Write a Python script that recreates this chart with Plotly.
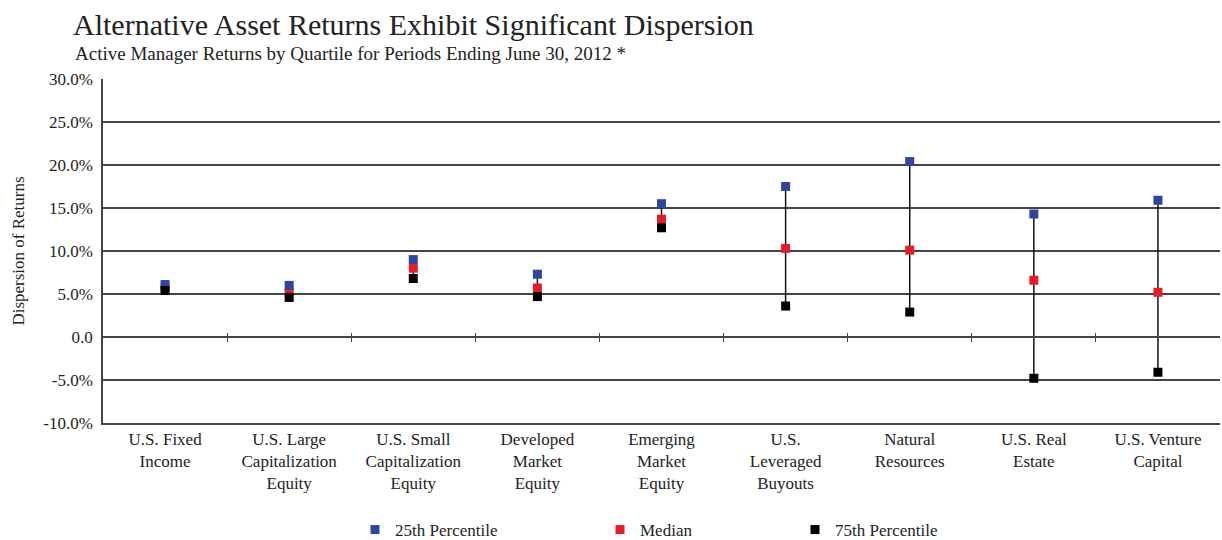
import plotly.graph_objects as go

categories = [
    "U.S. Fixed<br>Income",
    "U.S. Large<br>Capitalization<br>Equity",
    "U.S. Small<br>Capitalization<br>Equity",
    "Developed<br>Market<br>Equity",
    "Emerging<br>Market<br>Equity",
    "U.S.<br>Leveraged<br>Buyouts",
    "Natural<br>Resources",
    "U.S. Real<br>Estate",
    "U.S. Venture<br>Capital",
]
p25 = [6.1, 6.0, 9.0, 7.3, 15.5, 17.5, 20.4, 14.3, 15.9]
median = [5.7, 5.2, 8.0, 5.7, 13.7, 10.3, 10.1, 6.6, 5.2]
p75 = [5.4, 4.6, 6.8, 4.7, 12.7, 3.6, 2.9, -4.8, -4.1]

y_tickvals = [30, 25, 20, 15, 10, 5, 0, -5, -10]
y_ticktext = ["30.0%", "25.0%", "20.0%", "15.0%", "10.0%", "5.0%", "0.0", "-5.0%", "-10.0%"]

FONT = "Liberation Serif"
BLUE = "#2f45a0"
RED = "#e31e26"
BLACK = "#000000"
TXT = "#222222"

W, H = 1222, 540
L, R, T, B = 103, 2, 79, 117
PW, PH = W - L - R, H - T - B

x = list(range(len(categories)))

fig = go.Figure()
fig.add_trace(go.Scatter(
    x=x, y=median, mode="markers", name="Median",
    marker=dict(symbol="square", size=9, color=RED),
    error_y=dict(type="data", symmetric=False,
                 array=[a - m for a, m in zip(p25, median)],
                 arrayminus=[m - b for m, b in zip(median, p75)],
                 width=0, thickness=1.5, color="#111111"),
    legend="legend2",
))
fig.add_trace(go.Scatter(
    x=x, y=p25, mode="markers", name="25th Percentile",
    marker=dict(symbol="square", size=9, color=BLUE),
    legend="legend",
))
fig.add_trace(go.Scatter(
    x=x, y=p75, mode="markers", name="75th Percentile",
    marker=dict(symbol="square", size=9, color=BLACK),
    legend="legend3",
))

n = len(categories)
boundaries = [i + 0.5 for i in range(n - 1)]
y_min, y_max = -10, 30
zero_pos = (0 - y_min) / (y_max - y_min)

legend_common = dict(orientation="h", yanchor="middle", y=-(530 - (H - B)) / PH, xanchor="left",
                     font=dict(family=FONT, size=17, color=TXT),
                     bgcolor="rgba(0,0,0,0)", itemwidth=30)

fig.update_layout(
    width=W, height=H,
    margin=dict(l=L, r=R, t=T, b=B, autoexpand=False),
    paper_bgcolor="white", plot_bgcolor="white",
    font=dict(family=FONT, color=TXT),
    title=dict(
        text="Alternative Asset Returns Exhibit Significant Dispersion",
        font=dict(family=FONT, size=30, color=TXT),
        x=73 / W, xanchor="left", xref="container",
        y=1 - 24 / H, yanchor="middle", yref="container",
    ),
    annotations=[dict(
        text="Active Manager Returns by Quartile for Periods Ending June 30, 2012 *",
        font=dict(family=FONT, size=19, color=TXT),
        xref="paper", yref="paper", x=(73 - L) / PW, y=((H - B) - 53) / PH,
        xanchor="left", yanchor="middle", showarrow=False,
    )],
    xaxis=dict(
        type="linear", range=[-0.5, n - 0.5],
        tickmode="array", tickvals=x, ticktext=categories,
        showgrid=False, zeroline=False,
        showline=True, linecolor="#444", linewidth=1.5,
        ticks="", tickfont=dict(family=FONT, size=17, color=TXT),
    ),
    xaxis2=dict(
        overlaying="x", anchor="free", position=zero_pos,
        range=[-0.5, n - 0.5], tickmode="array", tickvals=boundaries,
        showticklabels=False, showgrid=False, zeroline=False,
        showline=True, linecolor="#444", linewidth=1.5,
        ticks="outside", ticklen=4, tickwidth=1.2, tickcolor="#444",
    ),
    xaxis3=dict(
        overlaying="x", anchor="free", position=zero_pos,
        range=[-0.5, n - 0.5], tickmode="array", tickvals=boundaries,
        showticklabels=False, showgrid=False, zeroline=False,
        showline=False,
        ticks="inside", ticklen=4, tickwidth=1.2, tickcolor="#444",
    ),
    yaxis=dict(
        range=[y_min, y_max], tickmode="array", tickvals=y_tickvals, ticktext=y_ticktext,
        showgrid=True, gridcolor="#444", gridwidth=1.5, zeroline=False,
        showline=True, linecolor="#444", linewidth=1.5,
        ticks="outside", ticklen=5, tickcolor="rgba(0,0,0,0)",
        tickfont=dict(family=FONT, size=17, color=TXT),
        title=dict(text="Dispersion of Returns", font=dict(family=FONT, size=17, color=TXT), standoff=14),
    ),
    legend=dict(**legend_common, x=(355 - L) / PW),
    legend2=dict(**legend_common, x=(600 - L) / PW),
    legend3=dict(**legend_common, x=(795 - L) / PW),
    showlegend=True,
)

# invisible traces to register overlay axes
fig.add_trace(go.Scatter(x=[None], y=[None], xaxis="x2", showlegend=False, hoverinfo="skip"))
fig.add_trace(go.Scatter(x=[None], y=[None], xaxis="x3", showlegend=False, hoverinfo="skip"))

fig.write_html("out.html", config={"displayModeBar": False},
               post_script="document.body.style.margin='0';")
